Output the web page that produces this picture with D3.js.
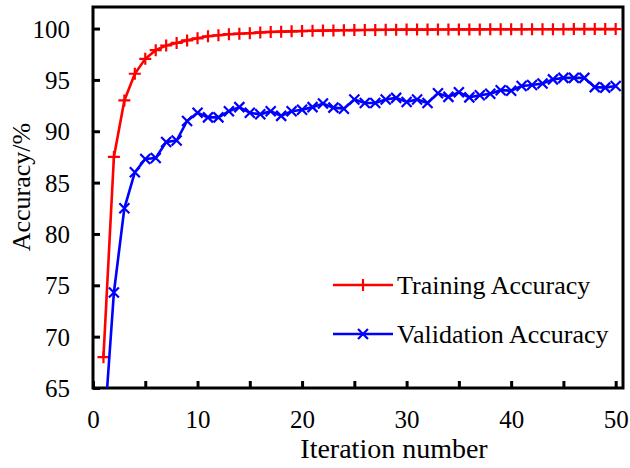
<!DOCTYPE html>
<html>
<head>
<meta charset="utf-8">
<script src="https://cdn.jsdelivr.net/npm/d3@7"></script>
<style>
  body { margin: 0; background: #fff; }
  text { font-family: "Liberation Serif", "Times New Roman", serif; fill: #000; }
</style>
</head>
<body>
<div id="chart"></div>
<script>

// data
const iterations = d3.range(1, 51);
const trainAcc = [68.0, 87.5, 93.0, 95.6, 97.05, 97.9, 98.35, 98.6, 98.85, 99.05,
  99.25, 99.35, 99.45, 99.5, 99.55, 99.62, 99.67, 99.7, 99.73, 99.76,
  99.78, 99.8, 99.82, 99.84, 99.85, 99.86, 99.87, 99.88, 99.89, 99.9,
  99.9, 99.9, 99.91, 99.91, 99.92, 99.92, 99.92, 99.93, 99.93, 99.93,
  99.93, 99.94, 99.94, 99.94, 99.94, 99.95, 99.95, 99.95, 99.95, 99.95];
const valAcc = [59.9, 74.3, 82.5, 86.0, 87.3, 87.4, 88.95, 89.1, 91.0, 91.8,
  91.35, 91.35, 91.95, 92.35, 91.8, 91.65, 91.95, 91.5, 91.95, 92.1,
  92.35, 92.7, 92.3, 92.2, 93.1, 92.75, 92.75, 93.1, 93.25, 92.85,
  93.1, 92.75, 93.7, 93.35, 93.8, 93.3, 93.5, 93.65, 94.0, 93.95,
  94.4, 94.5, 94.65, 95.05, 95.2, 95.2, 95.2, 94.3, 94.25, 94.4];
const seriesNames = ["Training Accuracy", "Validation Accuracy"];
const seriesColors = ["#ff0000", "#0000ff"];
const xTicks = d3.range(0, 51, 5);
const yTicks = d3.range(65, 101, 5);

const width = 630;
const height = 468;
const margin = {left: 93, right: 7, top: 7, bottom: 80};

const svg = d3.select("#chart")
  .append("svg")
  .attr("width", width)
  .attr("height", height);

const x = d3.scaleLinear()
  .domain([0, 50.7])
  .range([margin.left, width - margin.right]);

const y = d3.scaleLinear()
  .domain([65, 102.1])
  .range([height - margin.bottom, margin.top]);

// clip so the first validation point goes below the frame
svg.append("clipPath").attr("id", "plot-clip")
  .append("rect")
  .attr("x", x.range()[0]).attr("y", y.range()[1])
  .attr("width", x.range()[1] - x.range()[0])
  .attr("height", y.range()[0] - y.range()[1]);

// x axis, ticks point inside
const xAxis = svg.append("g")
  .attr("transform", `translate(0,${y.range()[0]})`)
  .call(d3.axisBottom(x)
    .tickValues(xTicks)
    .tickSize(-7)
    .tickFormat(d => d % 10 === 0 ? d : ""));
xAxis.selectAll("text")
  .attr("y", 40).attr("dy", 0)
  .attr("font-size", "25px");

// y axis
const yAxis = svg.append("g")
  .attr("transform", `translate(${x.range()[0]},0)`)
  .call(d3.axisLeft(y)
    .tickValues(yTicks)
    .tickSize(-7)
    .tickPadding(23));
yAxis.selectAll("text")
  .attr("dy", "0.34em")
  .attr("font-size", "25px");

svg.selectAll(".domain").remove();
svg.selectAll(".tick line").attr("stroke", "#000").attr("stroke-width", 3);

// frame
svg.append("rect")
  .attr("x", x.range()[0]).attr("y", y.range()[1])
  .attr("width", x.range()[1] - x.range()[0])
  .attr("height", y.range()[0] - y.range()[1])
  .attr("fill", "none")
  .attr("stroke", "#000")
  .attr("stroke-width", 3);

// axis titles
svg.append("text")
  .attr("x", 394).attr("y", 458)
  .attr("text-anchor", "middle")
  .attr("font-size", "28px")
  .text("Iteration number");

svg.append("text")
  .attr("transform", "translate(30,187) rotate(-90)")
  .attr("text-anchor", "middle")
  .attr("font-size", "26px")
  .text("Accuracy/%");

// lines and markers
const line = d3.line()
  .x((d, i) => x(iterations[i]))
  .y(d => y(d));

const plot = svg.append("g").attr("clip-path", "url(#plot-clip)");

const plus = (g, s) => `M${-s},0H${s}M0,${-s}V${s}`;
const cross = (g, s) => `M${-s},${-s}L${s},${s}M${-s},${s}L${s},${-s}`;
const markers = [plus, cross];
const markerSize = [6, 5];

[trainAcc, valAcc].forEach((vals, k) => {
  plot.append("path")
    .datum(vals)
    .attr("fill", "none")
    .attr("stroke", seriesColors[k])
    .attr("stroke-width", 2.6)
    .attr("d", line);

  plot.selectAll(".m" + k)
    .data(vals)
    .enter()
    .append("path")
    .attr("class", "m" + k)
    .attr("transform", (d, i) => `translate(${x(iterations[i])},${y(d)})`)
    .attr("d", markers[k](null, markerSize[k]))
    .attr("stroke", seriesColors[k])
    .attr("stroke-width", 2.2)
    .attr("fill", "none");
});

// legend
const legend = svg.append("g");
seriesNames.forEach((name, k) => {
  const ly = 285 + k * 49;
  legend.append("line")
    .attr("x1", 333).attr("x2", 393)
    .attr("y1", ly).attr("y2", ly)
    .attr("stroke", seriesColors[k])
    .attr("stroke-width", 2.6);
  legend.append("path")
    .attr("transform", `translate(363,${ly})`)
    .attr("d", markers[k](null, markerSize[k]))
    .attr("stroke", seriesColors[k])
    .attr("stroke-width", 2.2)
    .attr("fill", "none");
  legend.append("text")
    .attr("x", 397).attr("y", ly + 9)
    .attr("font-size", "26px")
    .text(name);
});

</script>
</body>
</html>
